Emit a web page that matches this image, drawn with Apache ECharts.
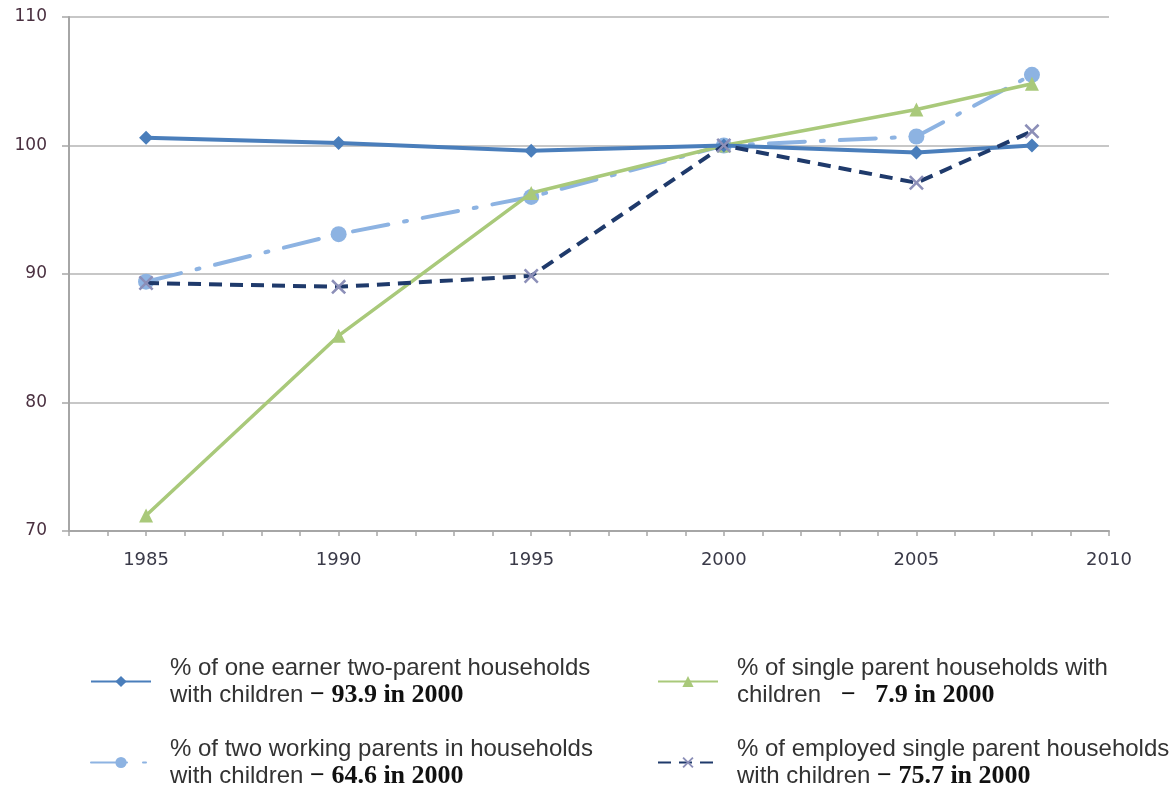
<!DOCTYPE html>
<html>
<head>
<meta charset="utf-8">
<script src="https://cdn.jsdelivr.net/npm/echarts@6/dist/echarts.min.js"></script>
<style>
  html, body { margin: 0; padding: 0; background: #fff; }
  #chart { width: 1175px; height: 787px; }
</style>
</head>
<body>
<div id="chart"></div>
<script>
// Index values (2000 = 100) by year
const years = [1985, 1990, 1995, 2000, 2005, 2008];
const oneEarner = [100.6, 100.2, 99.6, 100, 99.45, 100.0];
const twoWorking = [89.4, 93.1, 96.0, 100, 100.7, 105.5];
const singleParent = [71.2, 85.2, 96.3, 100, 102.8, 104.8];
const employedSingle = [89.3, 89.0, 89.85, 100, 97.1, 101.1];

const yTicks = [70, 80, 90, 100, 110];

const seriesNames = [
  '% of one earner two-parent households',
  '% of two working parents in households',
  '% of single parent households with',
  '% of employed single parent households'
];
const secondLines = {
  [seriesNames[0]]: ['with children ', '\u2212 93.9 in 2000'],
  [seriesNames[1]]: ['with children ', '\u2212 64.6 in 2000'],
  [seriesNames[2]]: ['children   ', '\u2212   7.9 in 2000'],
  [seriesNames[3]]: ['with children ', '\u2212 75.7 in 2000']
};

const pairs = vals => years.map((y, i) => [y, vals[i]]);

const crossPath = 'path://M0,1.2L1.2,0L5,3.8L8.8,0L10,1.2L6.2,5L10,8.8L8.8,10L5,6.2L1.2,10L0,8.8L3.8,5Z';

const chart = echarts.init(document.getElementById('chart'));

function legendFor(name, left, top) {
  return {
    data: [name],
    left: left,
    top: top,
    orient: 'vertical',
    itemWidth: 60,
    itemHeight: 14,
    selectedMode: false,
    textStyle: {
      padding: [0, 0, 0, 14],
      rich: {
        n: { fontFamily: 'Liberation Sans, Arial, sans-serif', fontSize: 24, color: '#333', lineHeight: 27 },
        b: { fontFamily: 'Liberation Serif, Times New Roman, serif', fontSize: 26, fontWeight: 'bold', color: '#111', lineHeight: 27 }
      }
    },
    formatter: n => '{n|' + n + '}\n{n|' + secondLines[n][0] + '}{b|' + secondLines[n][1] + '}'
  };
}

const axisFont = 'DejaVu Sans, Verdana, sans-serif';

chart.setOption({
  backgroundColor: '#fff',
  animation: false,
  grid: { left: 69, right: 66, top: 17, bottom: 256 },
  legend: [
    legendFor(seriesNames[0], 85, 651),
    legendFor(seriesNames[1], 85, 732),
    legendFor(seriesNames[2], 652, 651),
    legendFor(seriesNames[3], 652, 732)
  ],
  xAxis: {
    type: 'value',
    min: 1983,
    max: 2010,
    interval: 1,
    axisLine: { lineStyle: { color: '#a6a6a6', width: 2 } },
    axisTick: { show: true, length: 5, lineStyle: { color: '#a6a6a6', width: 1.5 } },
    splitLine: { show: false },
    axisLabel: {
      margin: 20,
      fontFamily: axisFont,
      fontSize: 18,
      color: '#3a3a48',
      formatter: v => (v % 5 === 0 ? String(v) : '')
    }
  },
  yAxis: {
    type: 'value',
    min: yTicks[0],
    max: yTicks[yTicks.length - 1],
    interval: 10,
    axisLine: { show: true, lineStyle: { color: '#a6a6a6', width: 2 } },
    axisTick: { show: true, length: 7, lineStyle: { color: '#a6a6a6', width: 1.5 } },
    splitLine: { show: true, lineStyle: { color: '#b5b5b5', width: 1.5 } },
    axisLabel: {
      margin: 22,
      fontFamily: axisFont,
      fontSize: 17,
      color: '#4a3040'
    }
  },
  series: [
    {
      name: seriesNames[0],
      type: 'line',
      data: pairs(oneEarner),
      z: 4,
      symbol: 'diamond',
      symbolSize: 14,
      itemStyle: { color: '#4a7ebb' },
      lineStyle: { color: '#4a7ebb', width: 4 }
    },
    {
      name: seriesNames[1],
      type: 'line',
      data: pairs(twoWorking),
      z: 2,
      symbol: 'circle',
      symbolSize: 16,
      itemStyle: { color: '#8db3e2' },
      lineStyle: { color: '#8db3e2', width: 4, type: [36, 16, 3, 16], cap: 'round' }
    },
    {
      name: seriesNames[2],
      type: 'line',
      data: pairs(singleParent),
      z: 3,
      symbol: 'triangle',
      symbolSize: 14,
      itemStyle: { color: '#a9c97a' },
      lineStyle: { color: '#a9c97a', width: 3.5 }
    },
    {
      name: seriesNames[3],
      type: 'line',
      data: pairs(employedSingle),
      z: 5,
      symbol: crossPath,
      symbolSize: 15,
      itemStyle: { color: '#8c8fb8' },
      lineStyle: { color: '#1f3a6b', width: 4, type: [13, 8] }
    }
  ]
});
</script>
</body>
</html>
